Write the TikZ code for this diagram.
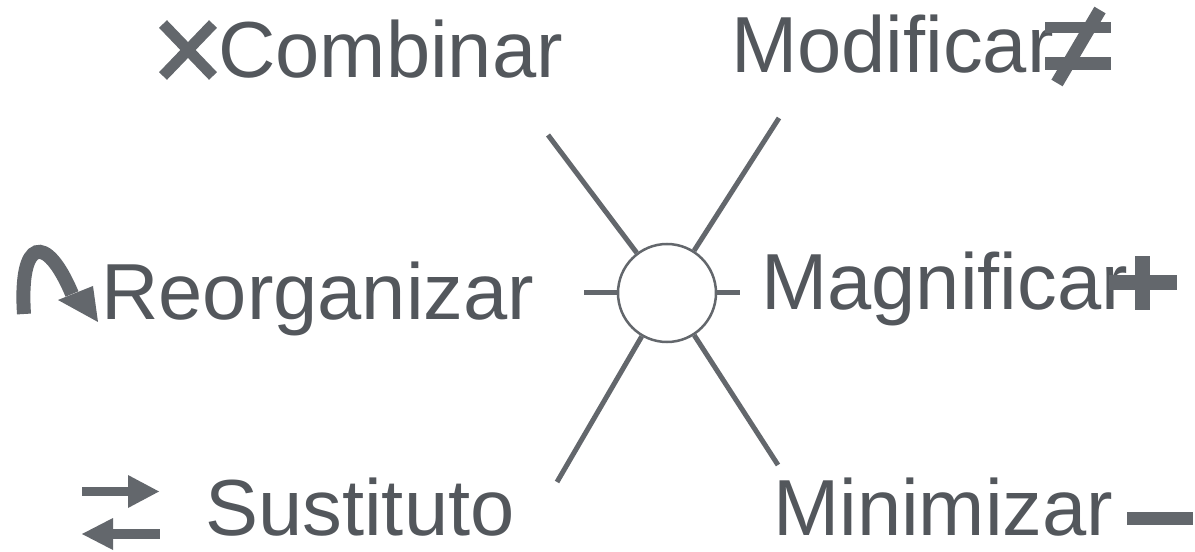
\documentclass[tikz,border=0pt]{standalone}
\usepackage{fontspec}
\setmainfont{Liberation Sans}
\definecolor{linegray}{RGB}{99,103,108}
\definecolor{textgray}{RGB}{83,87,92}
\begin{document}
\begin{tikzpicture}[x=1bp,y=-1bp,
  lbl/.style={anchor=base west,inner sep=0pt,text=textgray,font=\fontsize{79.5bp}{90bp}\selectfont},
  spoke/.style={draw=linegray,line width=5bp},
  icon/.style={fill=linegray,draw=none},
  iconline/.style={draw=linegray}]
\useasboundingbox (0,0) rectangle (1195,552);
% hub
\node[circle,draw=linegray,line width=2.5bp,minimum size=98bp,inner sep=0pt,fill=white] (c) at (667,293) {};
\coordinate (ul) at (548,135);
\coordinate (ur) at (779,118);
\coordinate (l) at (584,293);
\coordinate (r) at (740,293);
\coordinate (ll) at (557,482);
\coordinate (lr) at (778,465);
\draw[spoke] (c) -- (ul);
\draw[spoke] (c) -- (ur);
\draw[spoke] (c) -- (l);
\draw[spoke] (c) -- (r);
\draw[spoke] (c) -- (ll);
\draw[spoke] (c) -- (lr);
% labels
\node[lbl] (comb) at (218,78) {Combinar};
\node[lbl] (modi) at (731,73) {Modificar};
\node[lbl] (reor) at (101,320) {Reorganizar};
\node[lbl] (magn) at (761,310) {Magnificar};
\node[lbl,text depth=0pt] (sust) at (205,535) {Sustituto};
\node[lbl,text depth=0pt] (mini) at (773,535) {Minimizar};
% X icon
\draw[iconline,line width=11bp] (163,24) -- (213,76) (213,24) -- (163,76);
% not-equal icon
\fill[icon] (1045,22) rectangle (1111,33);
\fill[icon] (1045,57) rectangle (1111,70);
\draw[iconline,line width=13bp] (1100,10) -- (1057,83);
% plus icon
\fill[icon] (1109,275) rectangle (1177,290);
\fill[icon] (1135,256) rectangle (1150,310);
% minus icon
\fill[icon] (1127,512) rectangle (1193,525);
% swap arrows
\fill[icon] (82,487) rectangle (130,496);
\fill[icon] (128,475) -- (159,491.5) -- (128,508) -- cycle;
\fill[icon] (110,529) rectangle (160,539);
\fill[icon] (113,518) -- (82,534) -- (113,550) -- cycle;
% curved arrow
\draw[iconline,line width=14bp] (24,314) .. controls (19,238) and (46,232) .. (72,294);
\fill[icon] (58,300) -- (93,286) -- (98,322) -- cycle;
\end{tikzpicture}
\end{document}
